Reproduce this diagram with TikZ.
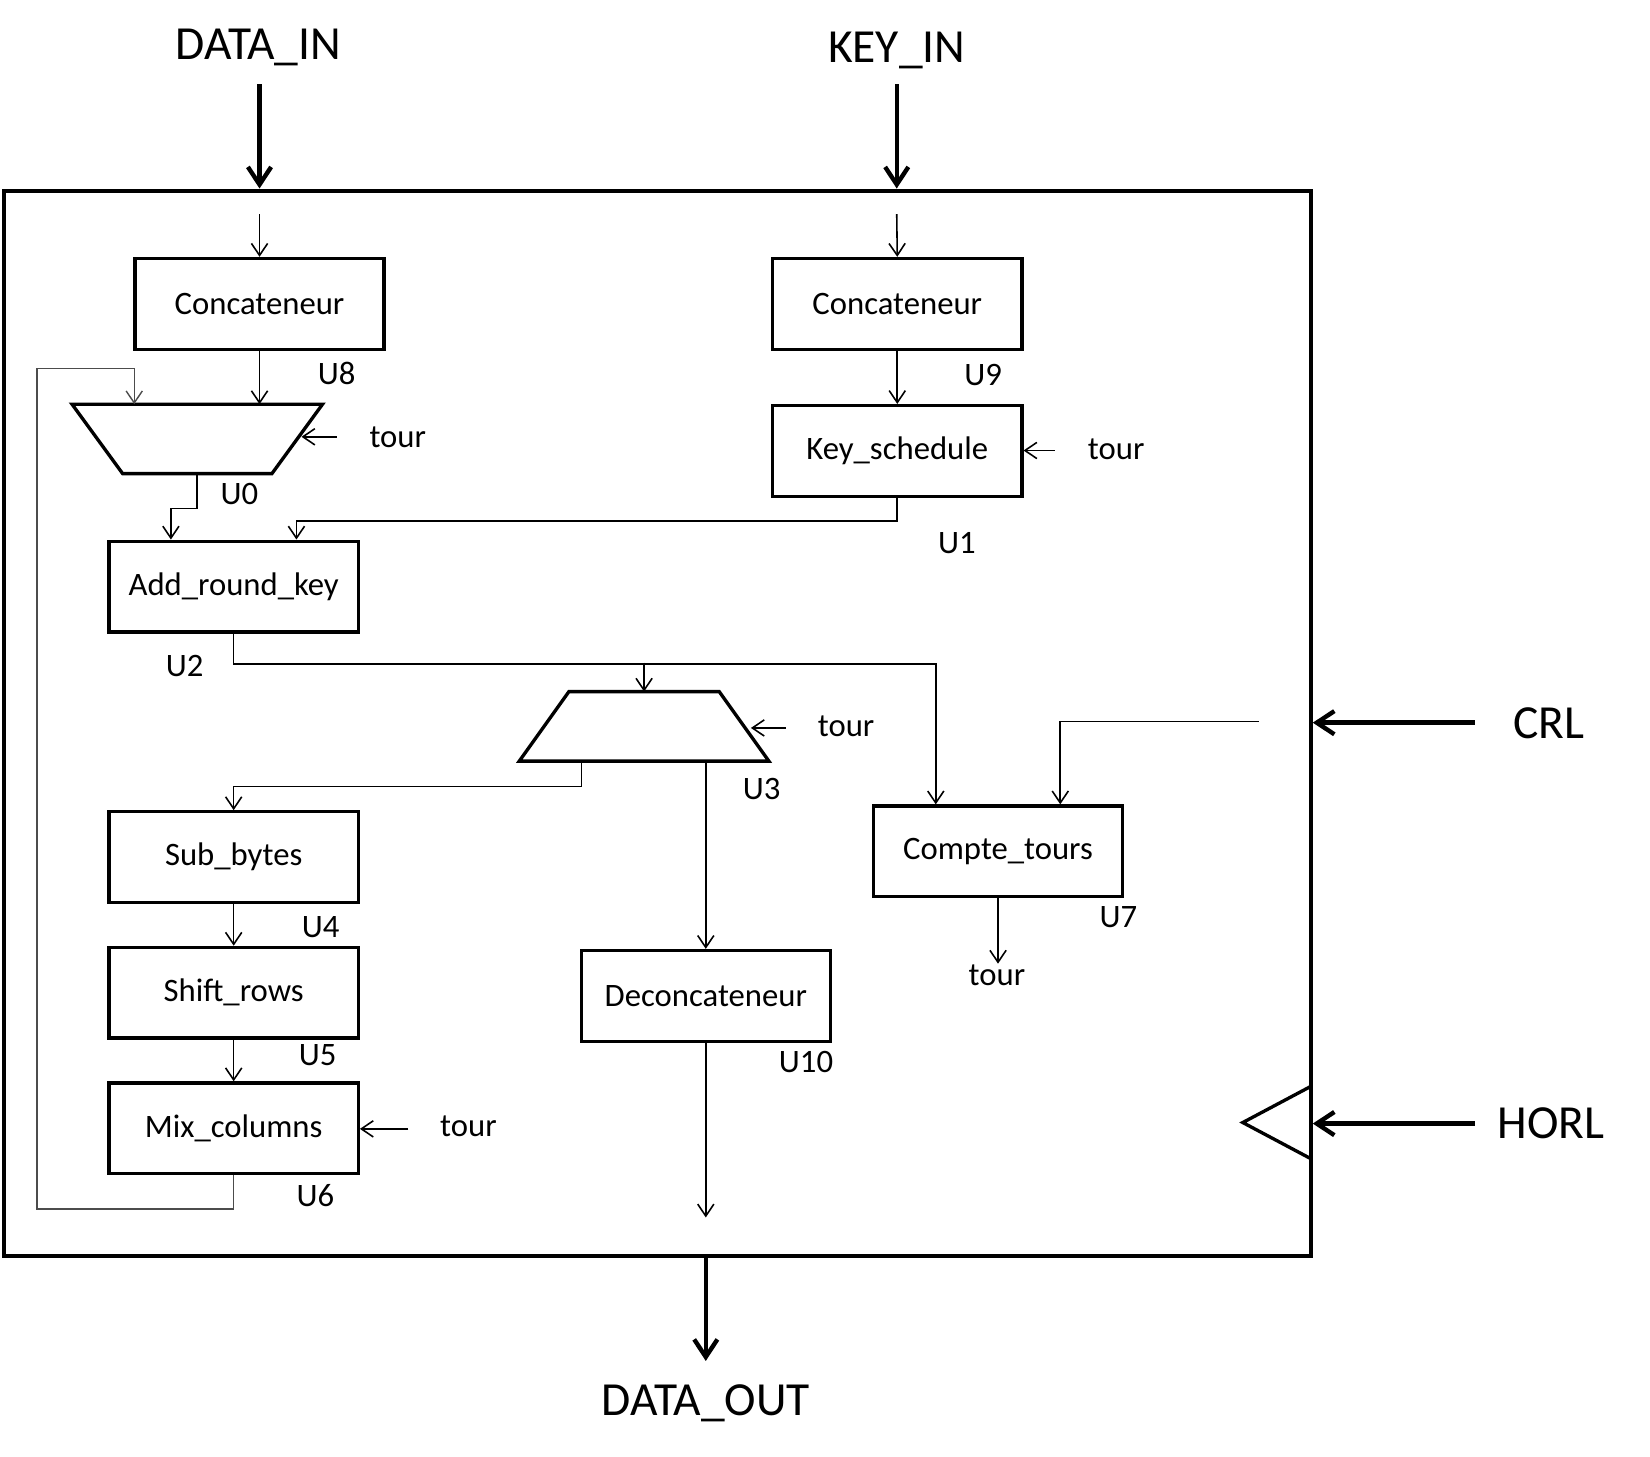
\documentclass[tikz,border=0pt]{standalone}
\usepackage{fontspec}
\setmainfont{Carlito}
\usetikzlibrary{arrows.meta,calc}

\begin{document}
\begin{tikzpicture}[x=0.01055cm,y=-0.01055cm,
  block/.style={draw,line width=0.95pt,minimum width=2.49cm,minimum height=0.907cm,inner sep=0pt,font=\fontsize{9.3}{11}\selectfont},
  muxbox/.style={inner sep=0pt,minimum height=0.68cm,minimum width=2.49cm},
  muxline/.style={line width=0.95pt,line join=miter},
  lbl/.style={font=\fontsize{9.3}{11}\selectfont,inner sep=0pt},
  big/.style={font=\fontsize{13.5}{16}\selectfont,inner sep=0pt},
  sig/.style={line width=0.45pt,-{Straight Barb[length=3.4pt,width=4.6pt]}},
  fb/.style={line width=0.4pt,black!70},
  bus/.style={line width=1.25pt,-{Straight Barb[length=5pt,width=6.6pt]}}]
  \useasboundingbox (0,0) rectangle (1564,1381);

  \node[draw,line width=1.2pt,minimum width=13.06cm,minimum height=10.645cm] (chip) at (623,685.5) {};

  \node[big] (din) at (245,45) {DATA\_IN};
  \node[big] (kin) at (850,48) {KEY\_IN};
  \node[big] (dout) at (669,1330) {DATA\_OUT};
  \node[big] (crl) at (1468,686) {CRL};
  \node[big] (horl) at (1470,1065) {HORL};

  \node[block] (cat1) at (246,288) {Concateneur};
  \node[block] (cat2) at (850.5,288) {Concateneur};
  \node[block] (ks) at (850.5,427.5) {Key\_schedule};
  \node[block] (ark) at (221.5,556) {Add\_round\_key};
  \node[block] (sb) at (221.5,812.5) {Sub\_bytes};
  \node[block] (sr) at (221.5,941) {Shift\_rows};
  \node[block] (mc) at (221.5,1069.5) {Mix\_columns};
  \node[block] (ct) at (946,807) {Compte\_tours};
  \node[block] (dc) at (669,944) {Deconcateneur};
  \node[muxbox] (mux0) at (187,416) {};
  \node[muxbox,minimum width=2.48cm] (mux3) at (610.5,688.5) {};
  \draw[muxline] (mux0.north west) -- (mux0.north east) -- ($(mux0.south east)+(-48,0)$)
    -- ($(mux0.south west)+(48,0)$) -- cycle;
  \draw[muxline] ($(mux3.north west)+(47,0)$) -- ($(mux3.north east)+(-47,0)$) -- (mux3.south east)
    -- (mux3.south west) -- cycle;

  \node[lbl] (u8) at (319,354) {U8};
  \node[lbl] (u9) at (932,355) {U9};
  \node[lbl] (u0) at (227,468) {U0};
  \node[lbl] (u1) at (907,515) {U1};
  \node[lbl] (u2) at (175,631) {U2};
  \node[lbl] (u3) at (722,748) {U3};
  \node[lbl] (u4) at (304,879) {U4};
  \node[lbl] (u5) at (301,1000) {U5};
  \node[lbl] (u6) at (299,1133) {U6};
  \node[lbl] (u7) at (1060,869) {U7};
  \node[lbl] (u10) at (764,1007) {U10};

  \node[lbl] (t0) at (377,414) {tour};
  \node[lbl] (t1) at (1058,426) {tour};
  \node[lbl] (t3) at (802,688) {tour};
  \node[lbl] (t6) at (444,1068) {tour};
  \node[lbl] (t7) at (945,924) {tour};

  \coordinate (din-a) at (246,80);
  \coordinate (kin-a) at (850,80);
  \coordinate (c1-in) at (246,203);
  \coordinate (c2-in) at (850,203);
  \coordinate (t0-a) at (319,414);
  \coordinate (t1-a) at (1000,427);
  \coordinate (t3-a) at (745,690);
  \coordinate (t6-a) at (387,1070);
  \coordinate (j3) at (610.5,628);
  \coordinate (crl-in) at (1193,684);
  \coordinate (crl-a) at (1398,685);
  \coordinate (horl-a) at (1398,1065);
  \coordinate (dc-out) at (669,1154);
  \coordinate (dout-a) at (669,1290);
  \coordinate (fb-b) at (35,1146);
  \coordinate (fb-t) at (35,349);

  \draw[bus] (din-a) -- (din-a |- chip.north);
  \draw[bus] (kin-a) -- (kin-a |- chip.north);
  \draw[bus] (dout-a |- chip.south) -- (dout-a);
  \draw[bus] (crl-a) -- (crl-a -| chip.east);
  \draw[bus] (horl-a) -- (horl-a -| chip.east);
  \draw[line width=0.95pt] (1242,1030) -- (1178,1064) -- (1242,1098);

  \draw[sig] (c1-in) -- (cat1.north);
  \draw[sig] (c2-in) -- (cat2.north);
  \draw[sig] (cat1.south) -- (cat1.south |- mux0.north);
  \draw[sig] (cat2.south) -- (ks.north);
  \draw[sig] (t0-a) -- ($(t0-a -| mux0.east)+(-20,0)$);
  \draw[sig] (t1-a) -- (t1-a -| ks.east);
  \draw[sig] (t3-a) -- ($(t3-a -| mux3.east)+(-17,0)$);
  \draw[sig] (t6-a) -- (t6-a -| mc.east);
  \draw[sig] (mux0.south) -- ++(0,33) -| ($(ark.north)+(-59.5,0)$);
  \draw[sig] (ks.south) -- ++(0,22) -| ($(ark.north)+(59.5,0)$);
  \draw[sig] (ark.south) -- ++(0,29) -| ($(ct.north)+(-59,0)$);
  \draw[sig] (j3) -- (mux3.north);
  \draw[sig] ($(mux3.south)+(-59.5,0)$) -- ++(0,24) -| (sb.north);
  \draw[sig] (dc.north |- mux3.south) -- (dc.north);
  \draw[sig] (sb.south) -- (sr.north);
  \draw[sig] (sr.south) -- (mc.north);
  \draw[sig] (ct.south) -- (ct.south |- t7.north);
  \draw[sig] (crl-in) -| ($(ct.north)+(59,0)$);
  \draw[sig] (dc.south) -- (dc-out);
  \draw[sig,fb] (mc.south) |- (fb-b) -- (fb-t) -| ($(mux0.north west)+(59,0)$);
\end{tikzpicture}
\end{document}
